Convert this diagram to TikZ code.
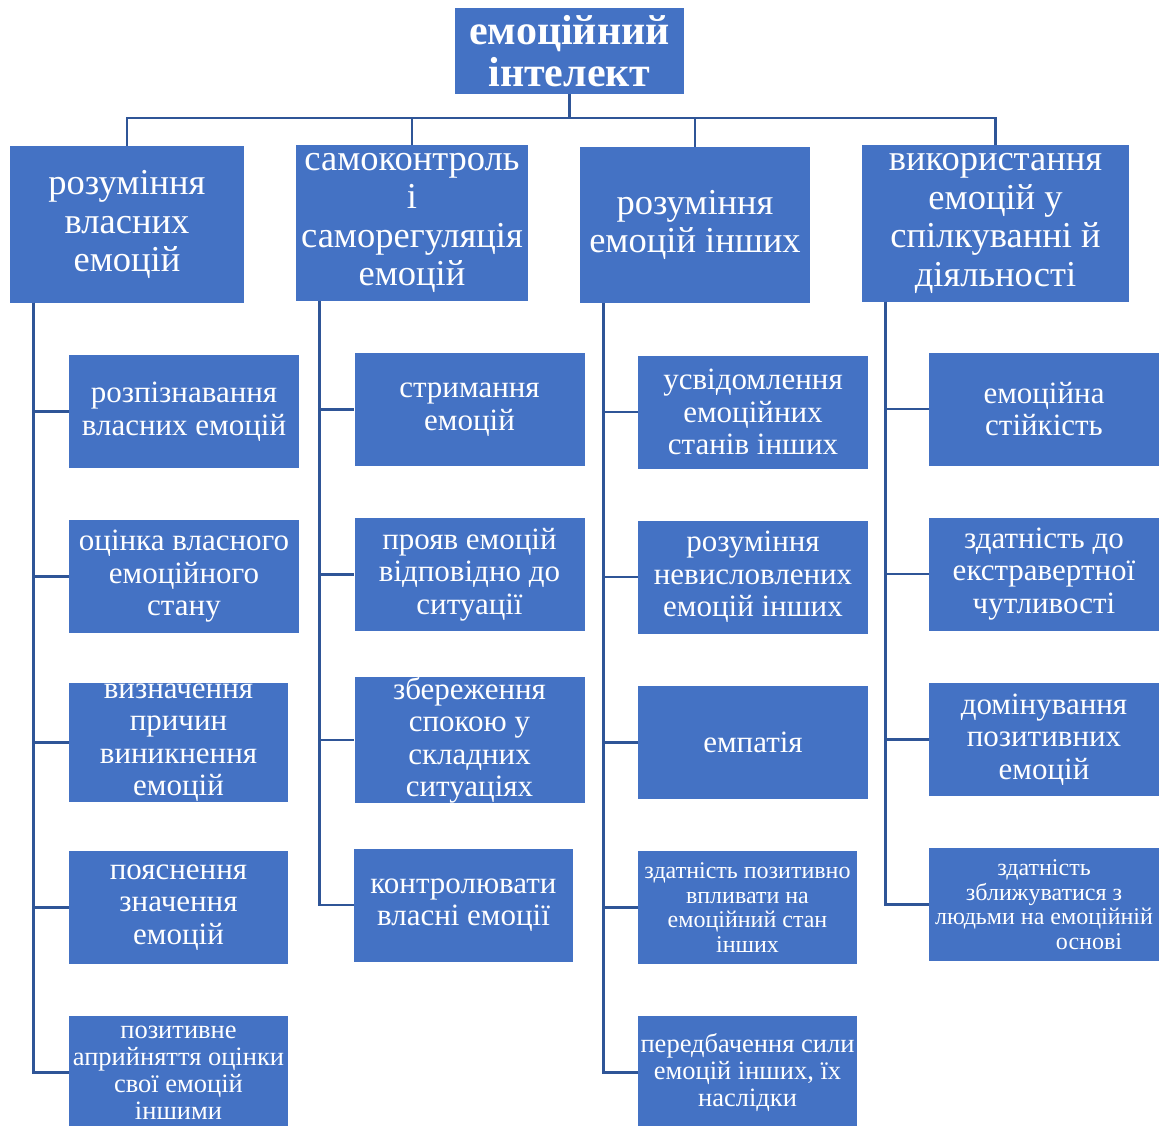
\documentclass[tikz,border=0pt]{standalone}
\usepackage{fontspec}
\setmainfont{Liberation Serif}
\definecolor{boxblue}{RGB}{68,114,196}
\definecolor{lineblue}{RGB}{47,85,151}

\begin{document}
\begin{tikzpicture}[x=1pt, y=-1pt,
  box/.style={fill=boxblue, text=white, inner sep=0pt, align=center, minimum width=230pt, minimum height=113pt, font=\fontsize{31}{32.5}\selectfont},
  narrow/.style={minimum width=219pt},
  head/.style={box, minimum height=156pt, font=\fontsize{36.5}{38.5}\selectfont},
  small/.style={font=\fontsize{26.5}{27}\selectfont},
  tiny/.style={font=\fontsize{24}{24.5}\selectfont},
  link/.style={draw=lineblue, line width=2.8pt}]
  \useasboundingbox (0,0) rectangle (1169,1126);
  % root
  \node[box, minimum width=229pt, minimum height=86pt, font=\bfseries\fontsize{42}{42}\selectfont] (root) at (569.5,51) {емоційний\\інтелект};
  % main branches
  \node[head, minimum width=234pt] (A) at (127,224.5) {розуміння\\власних\\емоцій};
  \node[head, minimum width=232pt] (B) at (412,223) {самоконтроль\\і\\саморегуляція\\емоцій};
  \node[head, minimum width=230pt] (C) at (695,225) {розуміння\\емоцій інших};
  \node[head, minimum width=267pt] (D) at (995.5,223.5) {використання\\емоцій у\\спілкуванні й\\діяльності};
  % first branch
  \node[box] (A1) at (184,411.5) {розпізнавання\\власних емоцій};
  \node[box] (A2) at (184,576.5) {оцінка власного\\емоційного\\стану};
  \node[box, narrow] (A3) at (178.5,742.5) {визначення\\причин\\виникнення\\емоцій};
  \node[box, narrow] (A4) at (178.5,907.5) {пояснення\\значення\\емоцій};
  \node[box, narrow, small] (A5) at (178.5,1072.5) {позитивне\\априйняття оцінки\\свої емоцій\\іншими};
  % second branch
  \node[box] (B1) at (469.5,409.5) {стримання\\емоцій};
  \node[box] (B2) at (469.5,574.5) {прояв емоцій\\відповідно до\\ситуації};
  \node[box] (B3) at (469.5,740) {збереження\\спокою у\\складних\\ситуаціях};
  \node[box, narrow] (B4) at (463.5,905) {контролювати\\власні емоції};
  % third branch
  \node[box] (C1) at (753,412) {усвідомлення\\емоційних\\станів інших};
  \node[box] (C2) at (753,577) {розуміння\\невисловлених\\емоцій інших};
  \node[box] (C3) at (753,742.5) {емпатія};
  \node[box, narrow, tiny] (C4) at (747.5,907.5) {здатність позитивно\\впливати на\\емоційний стан\\інших};
  \node[box, narrow, small] (C5) at (747.5,1072.5) {передбачення сили\\емоцій інших, їх\\наслідки};
  % fourth branch
  \node[box] (D1) at (1044,409) {емоційна\\стійкість};
  \node[box] (D2) at (1044,574) {здатність до\\екстравертної\\чутливості};
  \node[box] (D3) at (1044,739.5) {домінування\\позитивних\\емоцій};
  \node[box, tiny] (D4) at (1044,904.5) {здатність\\зближуватися з\\людьми на емоційній\\\hspace*{90pt}основі};
  % connectors
  \coordinate (bus) at (569,118);
  \foreach \h in {A,B,C,D}
    \draw[link] (root.south) |- (bus) -| (\h.north);
  \foreach \h/\n in {A/5,B/4,C/5,D/4}
    \foreach \i in {1,...,\n}
      \draw[link] ([xshift=24pt]\h.south west) |- (\h\i.west);
\end{tikzpicture}
\end{document}
